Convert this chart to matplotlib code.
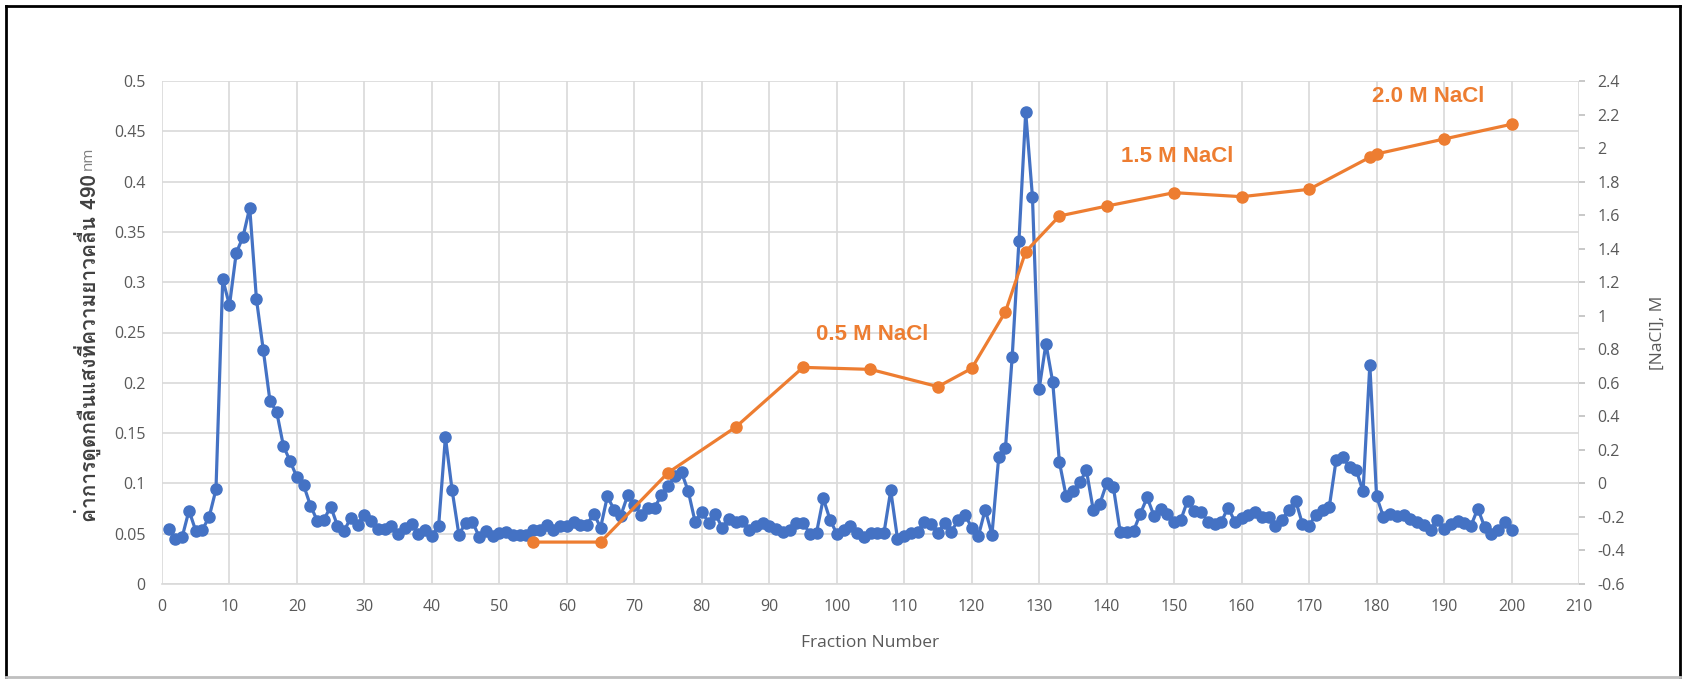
import numpy as np
import matplotlib
matplotlib.use("Agg")
import matplotlib.pyplot as plt
from matplotlib import font_manager
from matplotlib.ft2font import FT2Font

# absorbance at 490 nm, one reading per fraction 1..200
fraction = list(range(1, 201))
absorb = [
    0.055, 0.045, 0.047, 0.073, 0.053, 0.054, 0.067, 0.094, 0.303, 0.277,
    0.329, 0.345, 0.374, 0.283, 0.233, 0.182, 0.171, 0.137, 0.122, 0.106,
    0.098, 0.078, 0.063, 0.064, 0.077, 0.058, 0.053, 0.066, 0.059, 0.069,
    0.063, 0.055, 0.055, 0.058, 0.050, 0.056, 0.060, 0.050, 0.054, 0.048,
    0.058, 0.146, 0.093, 0.049, 0.061, 0.062, 0.047, 0.053, 0.048, 0.051,
    0.052, 0.049, 0.049, 0.049, 0.054, 0.054, 0.059, 0.054, 0.058, 0.058,
    0.062, 0.059, 0.059, 0.070, 0.056, 0.087, 0.074, 0.068, 0.088, 0.079,
    0.069, 0.076, 0.076, 0.088, 0.097, 0.107, 0.111, 0.092, 0.062, 0.072,
    0.061, 0.070, 0.056, 0.065, 0.062, 0.063, 0.054, 0.058, 0.061, 0.058,
    0.055, 0.052, 0.054, 0.061, 0.061, 0.050, 0.051, 0.085, 0.064, 0.050,
    0.054, 0.058, 0.051, 0.047, 0.051, 0.051, 0.051, 0.093, 0.045, 0.048,
    0.051, 0.052, 0.062, 0.060, 0.051, 0.061, 0.052, 0.064, 0.069, 0.056,
    0.048, 0.074, 0.049, 0.126, 0.135, 0.226, 0.341, 0.469, 0.385, 0.194,
    0.239, 0.201, 0.121, 0.087, 0.092, 0.101, 0.113, 0.074, 0.080, 0.100,
    0.096, 0.052, 0.052, 0.053, 0.070, 0.086, 0.068, 0.075, 0.070, 0.062,
    0.064, 0.083, 0.073, 0.072, 0.062, 0.060, 0.062, 0.076, 0.062, 0.066,
    0.069, 0.072, 0.067, 0.067, 0.058, 0.064, 0.074, 0.083, 0.060, 0.058,
    0.069, 0.074, 0.077, 0.123, 0.126, 0.116, 0.113, 0.092, 0.218, 0.087,
    0.067, 0.070, 0.068, 0.069, 0.065, 0.062, 0.059, 0.054, 0.064, 0.055,
    0.060, 0.063, 0.061, 0.058, 0.075, 0.057, 0.050, 0.054, 0.062, 0.054,
]

# measured NaCl concentration
nacl_frac = [55, 65, 75, 85, 95, 105, 115, 120, 125, 128, 133, 140, 150,
             160, 170, 179, 180, 190, 200]
nacl_conc = [-0.35, -0.35, 0.064, 0.335, 0.692, 0.680, 0.577, 0.686, 1.024,
             1.382, 1.595, 1.654, 1.734, 1.710, 1.754, 1.945, 1.965, 2.054,
             2.142]

left_ticks = np.arange(0, 0.501, 0.05)
right_ticks = np.arange(-0.6, 2.401, 0.2)
x_ticks = list(range(0, 211, 10))

BLUE = "#4472C4"
ORANGE = "#ED7D31"
GREY = "#595959"
GRID = "#d9d9d9"


def thai_font():
    # pick an installed family that has Thai glyphs
    for f in font_manager.fontManager.ttflist:
        try:
            if 0x0E04 in FT2Font(f.fname).get_charmap():
                return f.name
        except Exception:
            pass
    return "DejaVu Sans"


plt.rcParams["font.family"] = ["Open Sans", "DejaVu Sans"]

fig = plt.figure(figsize=(16.82, 6.79), dpi=100)
ax = fig.add_axes([162 / 1682, 1 - 584 / 679, (1579 - 162) / 1682, (584 - 81) / 679])
ax2 = ax.twinx()

ax.plot(fraction, absorb, color=BLUE, lw=2.3, marker="o", ms=8, zorder=3)
ax2.plot(nacl_frac, nacl_conc, color=ORANGE, lw=2.3, marker="o", ms=8, zorder=3)

ax.set_xlim(0, 210)
ax.set_ylim(0, 0.5)
ax2.set_ylim(-0.6, 2.4)

ax.set_xticks(x_ticks)
ax.set_yticks(left_ticks)
ax.set_yticklabels(["{:g}".format(round(v, 2) + 0.0) for v in left_ticks])
ax2.set_yticks(right_ticks)
ax2.set_yticklabels(["{:g}".format(round(v, 1) + 0.0) for v in right_ticks])

ax.grid(True, color=GRID, lw=1.2)
ax.set_axisbelow(True)
for s in ["top", "left", "right"]:
    ax.spines[s].set_visible(False)
    ax2.spines[s].set_visible(False)
ax.spines["bottom"].set_color(GRID)
ax.spines["bottom"].set_linewidth(1.2)
ax2.spines["bottom"].set_visible(False)

ax.tick_params(axis="both", length=0, labelsize=11.5, labelcolor=GREY, pad=12)
ax.tick_params(axis="x", pad=11)
ax2.tick_params(axis="y", length=4, color="#bfbfbf", width=1.2,
                labelsize=11.5, labelcolor=GREY, pad=9)

ax.set_xlabel("Fraction Number", fontsize=12.5, color=GREY, labelpad=14)
ax2.set_ylabel("[NaCl], M", fontsize=12.5, color=GREY, labelpad=18)

# salt step labels
lab = dict(color=ORANGE, fontsize=16, fontweight="bold", ha="center",
           va="baseline", family=["Liberation Sans", "DejaVu Sans"])
ax2.text(105.2, 0.855, "0.5 M NaCl", **lab)
ax2.text(150.4, 1.917, "1.5 M NaCl", **lab)
ax2.text(187.7, 2.275, "2.0 M NaCl", **lab)

# left axis title: Thai part bold, unit in light grey
tf = thai_font()
t = fig.text(88 / 1682, 1 - 522 / 679, "ค่าการดูดกลืนแสงที่ความยาวคลื่น 490",
             rotation=90, ha="center", va="bottom", fontsize=15,
             fontweight="bold", color="#404040", family=[tf, "DejaVu Sans"])
ax.annotate("nm", xy=(0.5, 1), xycoords=t, xytext=(0, 3),
            textcoords="offset points", rotation=90, ha="center",
            va="bottom", fontsize=11, color="#7f7f7f")

# frame round the picture
W, H = 1682, 679
for xs, ys, c in [([6, 6], [6, 677], "black"), ([6, 1680], [6, 6], "black"),
                  ([1680, 1680], [6, 677], "black"), ([6, 1680], [677, 677], "#bfbfbf")]:
    fig.add_artist(plt.Line2D([x / W for x in xs], [1 - y / H for y in ys],
                              transform=fig.transFigure, color=c, lw=2))

fig.savefig("out.png", dpi=100, facecolor="white")
